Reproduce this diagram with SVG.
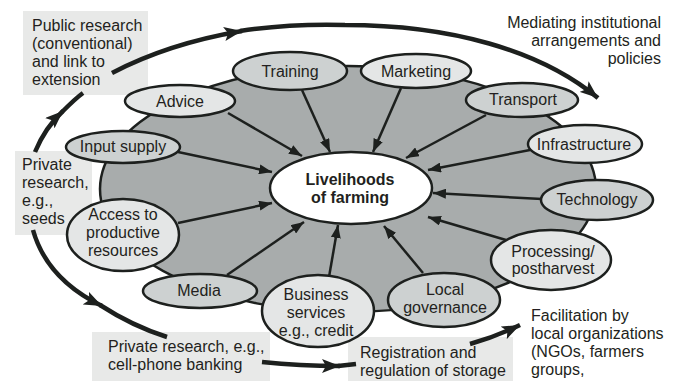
<svg xmlns="http://www.w3.org/2000/svg" width="673" height="381" viewBox="0 0 673 381">
<defs>
<style>
text{font-family:"Liberation Sans",Arial,sans-serif;font-size:16px;fill:#231f20}
.c{text-anchor:middle}
.b{font-weight:bold}
.node{stroke:#1d201e;stroke-width:2.5}
.lt{fill:#e4e6e6}
.dk{fill:#cdd1d1}
.spoke{fill:none;stroke:#1d201e;stroke-width:2.5;marker-end:url(#ah)}
.arc{fill:none;stroke:#1d201e;stroke-width:4.5}
.box{fill:#e8e9e8}
</style>
<marker id="ah" markerUnits="userSpaceOnUse" markerWidth="14" markerHeight="10" refX="13" refY="5" orient="auto"><path d="M0,0 L13,5 L0,10 z" fill="#1d201e"/></marker>
<marker id="big" markerUnits="userSpaceOnUse" markerWidth="20" markerHeight="14" refX="18" refY="7" orient="auto"><path d="M0,0 L18,7 L0,14 L4,7 z" fill="#1d201e"/></marker>
</defs>
<g id="boxes">
<rect class="box" x="23" y="11" width="125" height="84"/>
<rect class="box" x="15" y="151" width="77" height="84"/>
<rect class="box" x="92" y="332" width="178" height="49"/>
<rect class="box" x="348" y="337" width="165" height="44"/>
</g>
<g id="connectors">
<ellipse id="ring" cx="348" cy="189" rx="248" ry="123" fill="#a8acac" stroke="#1d201e" stroke-width="2.5"/>
<path class="arc" d="M35,152 C42,135 50,123 63,111" marker-end="url(#big)"/>
<path class="arc" d="M62,112 C70,104 76,98 83,93"/>
<path class="arc" d="M112,73 C150,53 195,39 242,31" marker-end="url(#big)"/>
<path class="arc" d="M240,31 C280,25 310,24 345,25 C450,25 540,50 598,98" marker-end="url(#big)"/>
<path class="arc" d="M33,230 C42,262 65,288 102,306" marker-end="url(#big)"/>
<path class="arc" d="M100,305 C120,318 145,330 167,337"/>
<path class="arc" d="M262,362 Q300,366 340,366" marker-end="url(#big)"/>
<path class="arc" d="M338,366 L356,364"/>
<path class="arc" d="M470,344 Q495,337 520,325" marker-end="url(#big)"/>
</g>
<g id="center">
<ellipse cx="351" cy="188" rx="81" ry="36" fill="#ffffff" stroke="#1d201e" stroke-width="2.5"/>
<text class="c b" x="350" y="185">Livelihoods</text>
<text class="c b" x="350" y="203">of farming</text>
</g>
<g id="spokes">
<path class="spoke" d="M302,90 L330,152"/>
<path class="spoke" d="M228,113 L302,156"/>
<path class="spoke" d="M178,152 L272,172"/>
<path class="spoke" d="M178,223 L272,203"/>
<path class="spoke" d="M227,275 L304,222"/>
<path class="spoke" d="M329,277 L338,225"/>
<path class="spoke" d="M423,273 L384,226"/>
<path class="spoke" d="M506,240 L428,217"/>
<path class="spoke" d="M542,199 L433,193"/>
<path class="spoke" d="M530,150 L428,170"/>
<path class="spoke" d="M486,115 L406,158"/>
<path class="spoke" d="M401,88 L373,152"/>
</g>
<g id="advice"><ellipse class="node lt" cx="180" cy="101" rx="55" ry="16"/><text class="c" x="180" y="106.5">Advice</text></g>
<g id="training"><ellipse class="node dk" cx="290" cy="71" rx="57" ry="19"/><text class="c" x="290" y="76.5">Training</text></g>
<g id="marketing"><ellipse class="node lt" cx="416" cy="71" rx="55" ry="17"/><text class="c" x="416" y="76.5">Marketing</text></g>
<g id="transport"><ellipse class="node dk" cx="522" cy="100" rx="56" ry="17"/><text class="c" x="523" y="105">Transport</text></g>
<g id="infrastructure"><ellipse class="node lt" cx="585" cy="144" rx="57" ry="19"/><text class="c" x="584" y="149.5">Infrastructure</text></g>
<g id="technology"><ellipse class="node dk" cx="597" cy="200" rx="56" ry="20"/><text class="c" x="597" y="205">Technology</text></g>
<g id="processing"><ellipse class="node lt" cx="551" cy="260" rx="60" ry="30"/><text class="c" x="553" y="257">Processing/</text><text class="c" x="553" y="274">postharvest</text></g>
<g id="local-governance"><ellipse class="node dk" cx="444" cy="300" rx="56" ry="27"/><text class="c" x="445" y="295">Local</text><text class="c" x="445" y="313">governance</text></g>
<g id="business-services"><ellipse class="node lt" cx="318" cy="311" rx="56" ry="36"/><text class="c" x="316" y="300">Business</text><text class="c" x="316" y="318">services</text><text class="c" x="316" y="336">e.g., credit</text></g>
<g id="media"><ellipse class="node dk" cx="200" cy="291" rx="57" ry="17"/><text class="c" x="199" y="296">Media</text></g>
<g id="access"><ellipse class="node lt" cx="123" cy="235" rx="56" ry="36"/><text class="c" x="123" y="220">Access to</text><text class="c" x="123" y="238">productive</text><text class="c" x="123" y="256">resources</text></g>
<g id="input-supply"><ellipse class="node dk" cx="123" cy="147" rx="57" ry="16"/><text class="c" x="123" y="152">Input supply</text></g>
<g id="labels">
<text x="32" y="31">Public research</text>
<text x="32" y="49">(conventional)</text>
<text x="32" y="67">and link to</text>
<text x="32" y="85">extension</text>
<text x="22" y="170">Private</text>
<text x="22" y="188">research,</text>
<text x="22" y="206">e.g.,</text>
<text x="22" y="224">seeds</text>
<text x="108" y="352">Private research, e.g.,</text>
<text x="108" y="370">cell-phone banking</text>
<text x="360" y="358">Registration and</text>
<text x="360" y="376">regulation of storage</text>
<text x="531" y="321">Facilitation by</text>
<text x="531" y="339">local organizations</text>
<text x="531" y="357">(NGOs, farmers</text>
<text x="531" y="375">groups,</text>
<text x="661" y="28" text-anchor="end">Mediating institutional</text>
<text x="661" y="46" text-anchor="end">arrangements and</text>
<text x="661" y="64" text-anchor="end">policies</text>
</g>
</svg>
